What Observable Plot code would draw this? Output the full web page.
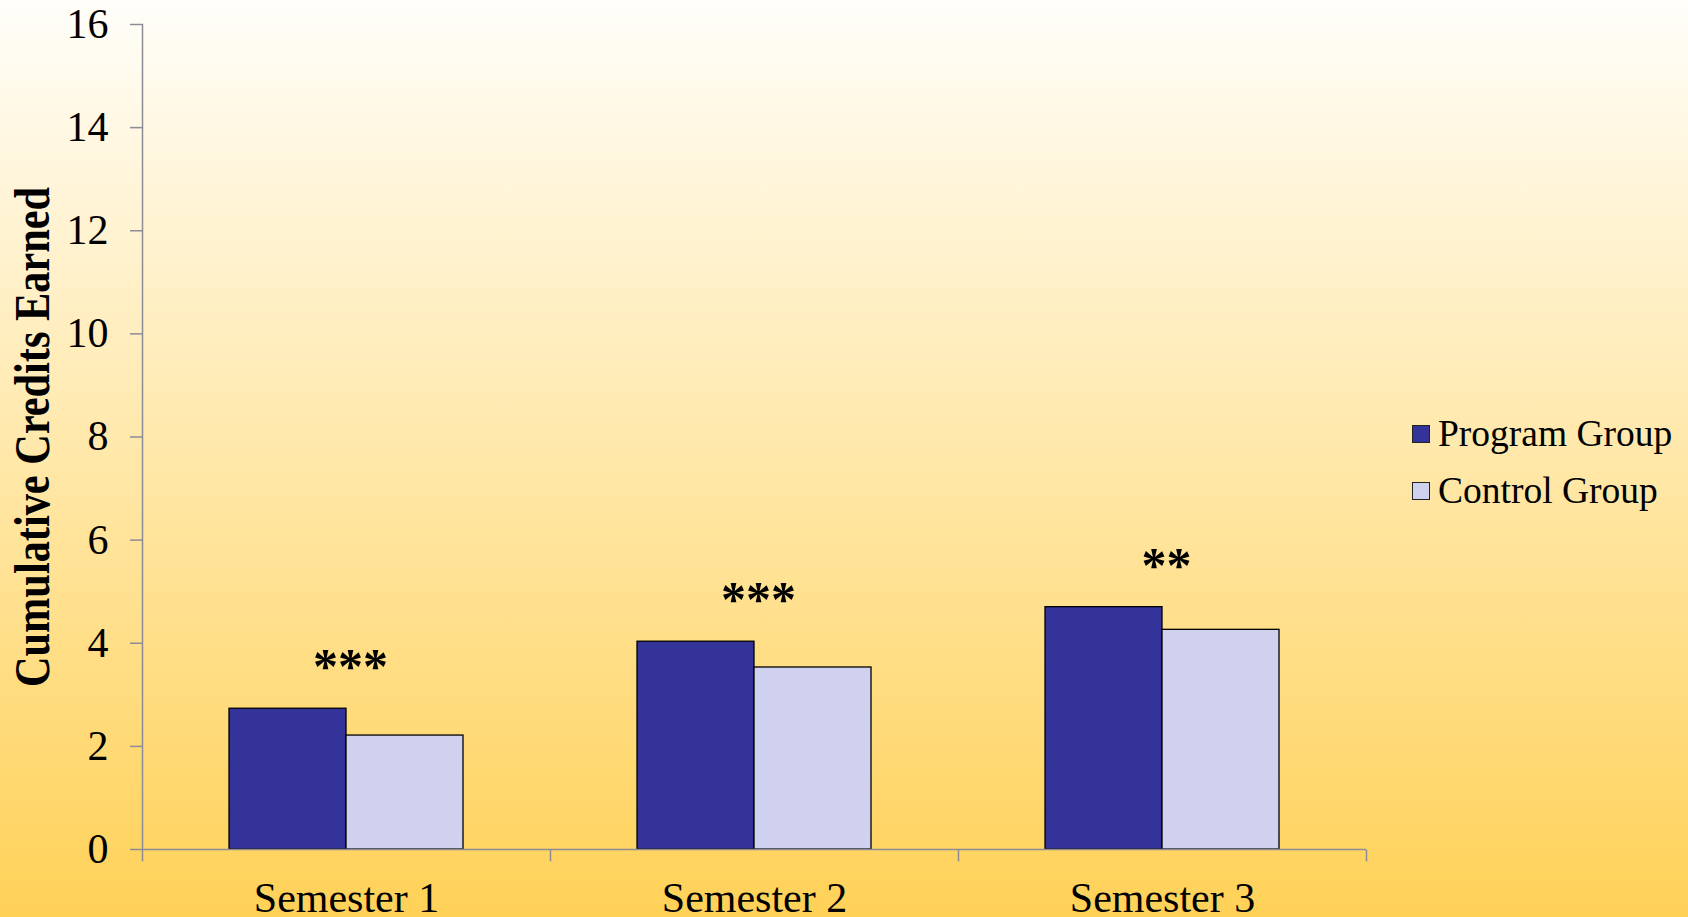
<!DOCTYPE html>
<html><head><meta charset="utf-8">
<script src="https://cdn.jsdelivr.net/npm/d3@7"></script>
<script src="https://cdn.jsdelivr.net/npm/@observablehq/plot@0.6"></script>
<style>
html,body{margin:0;padding:0;overflow:hidden;}
#wrap{position:relative;width:1688px;height:917px;background:linear-gradient(to bottom,#FFFEFA 0%,#FFD157 100%);font-family:"Liberation Serif",serif;}
#legend{position:absolute;left:1412px;top:405px;font-size:37.5px;color:#000;}
.item{display:flex;align-items:center;height:57px;white-space:nowrap;}
.sw{width:18px;height:18px;border:1px solid #222;margin-right:8px;box-sizing:border-box;}
</style></head><body><div id="wrap"><div id="chart"></div><div id="legend"></div></div>
<script>
const semesters = ["Semester 1", "Semester 2", "Semester 3"];
const groups = ["Program Group", "Control Group"];
const programValues = [2.73, 4.03, 4.70];
const controlValues = [2.21, 3.53, 4.26];
const significance = ["***", "***", "**"];
const yTicks = [0, 2, 4, 6, 8, 10, 12, 14, 16];
const yLabel = "Cumulative Credits Earned";
const colors = ["#333399", "#D0D1EF"];
const axisGray = "#8c8c96";

const bars = semesters.flatMap((s, i) => [
  {semester: s, group: groups[0], value: programValues[i]},
  {semester: s, group: groups[1], value: controlValues[i]}
]);
const stars = semesters.map((s, i) => ({semester: s, label: significance[i], top: Math.max(programValues[i], controlValues[i])}));

const tickSymbol = {draw(ctx) { ctx.moveTo(0, 0); ctx.lineTo(0, 12); }};

const chart = Plot.plot({
  width: 1688,
  height: 917,
  marginLeft: 141,
  marginRight: 321,
  marginTop: 24,
  marginBottom: 68,
  style: {background: "transparent", fontFamily: "Liberation Serif", fontSize: "42px", color: "black"},
  fx: {domain: semesters, paddingInner: 0, paddingOuter: 0, axis: null, label: null},
  x: {domain: groups, paddingInner: 0, paddingOuter: 0.74, axis: null, label: null},
  y: {domain: [0, 16], axis: null, label: null},
  color: {domain: groups, range: colors},
  marks: [
    Plot.frame({anchor: "left", facetAnchor: "left", stroke: axisGray, strokeWidth: 1.5}),
    Plot.axisY({ticks: yTicks, tickSize: 12, tickPadding: 22, fontSize: 42, stroke: axisGray, fill: "black", label: null, strokeWidth: 1.5}),
    Plot.text([yLabel], {fx: () => semesters[0], text: d => d, frameAnchor: "left", textAnchor: "middle", rotate: -90, dx: -110, fontWeight: "bold", fontSize: 50, fill: "black", className: "ylab"}),
    Plot.barY(bars, {fx: "semester", x: "group", y: "value", fill: "group", stroke: "black", strokeWidth: 1.3}),
    Plot.ruleY([0], {stroke: axisGray, strokeWidth: 1.5}),
    Plot.dot(semesters, {fx: d => d, frameAnchor: "bottom-left", symbol: tickSymbol, stroke: axisGray, fill: "none", strokeWidth: 1.5}),
    Plot.dot([semesters[semesters.length - 1]], {fx: d => d, frameAnchor: "bottom-right", symbol: tickSymbol, stroke: axisGray, fill: "none", strokeWidth: 1.5}),
    Plot.text(stars, {fx: "semester", y: d => d.top + 1, text: "label", fontSize: 50, fontWeight: "bold", fill: "black", dy: 10, dx: 4}),
    Plot.axisFx({anchor: "bottom", tickSize: 0, tickPadding: 33, fontSize: 42, fill: "black", label: null})
  ]
});
document.getElementById("chart").appendChild(chart);
const yl = chart.querySelector(".ylab text");
if (yl) { yl.setAttribute("textLength", 500); yl.setAttribute("lengthAdjust", "spacingAndGlyphs"); }

const legend = document.getElementById("legend");
groups.forEach((g, i) => {
  const row = document.createElement("div");
  row.className = "item";
  const sw = document.createElement("div");
  sw.className = "sw";
  sw.style.background = colors[i];
  const t = document.createElement("span");
  t.textContent = g;
  row.appendChild(sw); row.appendChild(t);
  legend.appendChild(row);
});
</script>
</body></html>
